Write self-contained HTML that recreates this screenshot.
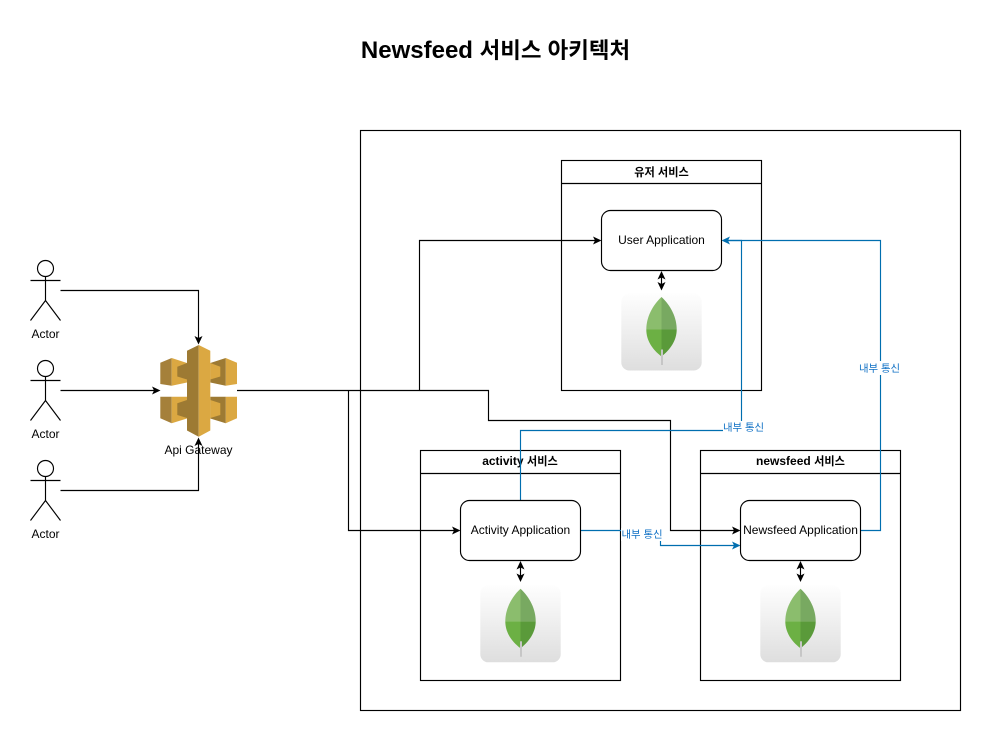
<!DOCTYPE html>
<html><head><meta charset="utf-8">
<style>
html,body{margin:0;padding:0;background:#fff;width:992px;height:741px;overflow:hidden}
svg{display:block}
text{font-family:"Liberation Sans","Noto Sans CJK KR",sans-serif;font-size:12px;fill:#000;text-anchor:middle}
.b{font-weight:bold}
.k{font-size:11.2px}
.bl{fill:#0d6fc4;font-size:10.4px}
.l{fill:none;stroke:#000;stroke-width:1.15}
.u{fill:none;stroke:#006eaf;stroke-width:1.15}
.box{fill:none;stroke:#000;stroke-width:1.15}
</style></head><body>
<svg width="992" height="741" viewBox="0 0 992 741" xmlns="http://www.w3.org/2000/svg">
<defs>
<linearGradient id="g" x1="0" y1="0" x2="0" y2="1"><stop offset="0" stop-color="#fefefe"/><stop offset="0.35" stop-color="#f3f3f3"/><stop offset="1" stop-color="#dedede"/></linearGradient>
<g id="mongo">
<rect x="0" y="0" width="80.4" height="77" rx="8" fill="url(#g)"/>
<path d="M40.2 3.5C31 12 25 24 25 36H40.2Z" fill="#8bbd6d"/>
<path d="M40.2 3.5C49.5 12 55.4 24 55.4 36H40.2Z" fill="#78a961"/>
<path d="M25 36C25 47 31 56 40.2 63V36Z" fill="#6cb044"/>
<path d="M55.4 36C55.4 47 49 56 40.2 63V36Z" fill="#5a9a3a"/>
<path d="M40.7 56V71.5" stroke="#c6c6c6" stroke-width="2" fill="none"/>
</g>
<g id="actor" fill="none" stroke="#000" stroke-width="1.15">
<circle cx="45.5" cy="268.5" r="8"/>
<path d="M45.5 276.5V300.5M30.5 280.5H60.5M30.5 320.5L45.5 300.5L60.5 320.5"/>
</g>
</defs>

<text x="495.5" y="58" class="b" style="font-size:24px">Newsfeed <tspan style="font-size:22.4px">서비스 아키텍처</tspan></text>

<rect x="360.5" y="130.5" width="600" height="580" class="box"/>

<rect x="561.5" y="160.5" width="200" height="230" class="box"/>
<path d="M561.5 183.5H761.5" class="l"/>
<text x="661.5" y="176" class="b k">유저 서비스</text>

<rect x="420.5" y="450.5" width="200" height="230" class="box"/>
<path d="M420.5 473.5H620.5" class="l"/>
<text x="520" y="465" class="b">activity <tspan class="k">서비스</tspan></text>

<rect x="700.5" y="450.5" width="200" height="230" class="box"/>
<path d="M700.5 473.5H900.5" class="l"/>
<text x="800.5" y="465" class="b">newsfeed <tspan class="k">서비스</tspan></text>

<use href="#mongo" x="621.3" y="293.5"/>
<use href="#mongo" x="480.3" y="585.3"/>
<use href="#mongo" x="760.3" y="585.3"/>

<!-- black connectors -->
<path class="l" d="M60.5 290.5H198.5V338"/>
<path class="l" d="M60.5 390.5H154"/>
<path class="l" d="M237 390.5H488.5V420.5H670.5V530.5H734"/>
<path class="l" d="M419.5 390.5V240.5H595"/>
<path class="l" d="M348.5 390.5V530.5H454"/>
<path class="l" d="M661.5 276V285M520.5 566V576M800.5 566V576"/>

<!-- blue connectors -->
<path class="u" d="M520.5 500.5V430.5H741.5V240.5H728"/>
<path class="u" d="M580.5 530.5H660.5V545.5H734"/>
<path class="u" d="M860.5 530.5H880.5V240.5H728"/>

<!-- arrowheads black -->
<g fill="#000">
<path d="M198.5 344.5l-4-8.5 4 2 4-2z"/>
<path d="M160.5 390.5l-8.5-4 2 4-2 4z"/>
<path d="M601.5 240.5l-8.5-4 2 4-2 4z"/>
<path d="M460.5 530.5l-8.5-4 2 4-2 4z"/>
<path d="M740.5 530.5l-8.5-4 2 4-2 4z"/>
<path d="M661.5 271l-4 8.5 4-2 4 2z"/>
<path d="M661.5 290.5l-4-8.5 4 2 4-2z"/>
<path d="M520.5 561l-4 8.5 4-2 4 2z"/>
<path d="M520.5 582l-4-8.5 4 2 4-2z"/>
<path d="M800.5 561l-4 8.5 4-2 4 2z"/>
<path d="M800.5 582l-4-8.5 4 2 4-2z"/>
</g>
<!-- arrowheads blue -->
<g fill="#006eaf">
<path d="M721.5 240.5l8.5-4-2 4 2 4z"/>
<path d="M740.5 545.5l-8.5-4 2 4-2 4z"/>
</g>

<!-- app boxes -->
<rect x="601.5" y="210.5" width="120" height="60" rx="9" fill="#fff" stroke="#000" stroke-width="1.15"/>
<text x="661.5" y="244">User Application</text>
<rect x="460.5" y="500.5" width="120" height="60" rx="9" fill="#fff" stroke="#000" stroke-width="1.15"/>
<text x="520.5" y="534">Activity Application</text>
<rect x="740.5" y="500.5" width="120" height="60" rx="9" fill="#fff" stroke="#000" stroke-width="1.15"/>
<text x="800.5" y="534">Newsfeed Application</text>

<!-- blue labels -->
<rect x="723" y="421" width="41" height="13" fill="#fff"/>
<text x="743.5" y="431" class="bl">내부 통신</text>
<rect x="621" y="528" width="42" height="13" fill="#fff"/>
<text x="642" y="538" class="bl">내부 통신</text>
<rect x="859" y="361" width="42" height="14" fill="#fff"/>
<text x="879.5" y="372" class="bl">내부 통신</text>

<!-- actors -->
<use href="#actor"/>
<use href="#actor" y="100"/>
<use href="#actor" y="200"/>
<text x="45.5" y="338">Actor</text>
<text x="45.5" y="438">Actor</text>
<text x="45.5" y="538">Actor</text>

<!-- API gateway -->
<g>
<path d="M160.3 362.7L171.7 358V385.7L160.3 384Z" fill="#a5803a"/>
<path d="M171.7 358L187 363V382.5L171.7 385.7Z" fill="#dba842"/>
<path d="M177.3 366.7L187 363V379.5L177.3 376.5Z" fill="#9d7a33"/>
<path d="M237 362.7L225.7 358V385.7L237 384Z" fill="#dba842"/>
<path d="M225.7 358L210.3 363V382.5L225.7 385.7Z" fill="#9d7a33"/>
<path d="M220.3 366.7L210.3 363V379.5L220.3 376.5Z" fill="#dba842"/>
<path d="M160.3 396.7H171.7V423.3L160.3 418.3Z" fill="#a5803a"/>
<path d="M171.7 396.7H187V418.5L171.7 423.3Z" fill="#dba842"/>
<path d="M177.3 403.3L187 400V418L177.3 415Z" fill="#9d7a33"/>
<path d="M237 396.7H225.7V423.3L237 418.3Z" fill="#dba842"/>
<path d="M225.7 396.7H210.3V418.5L225.7 423.3Z" fill="#9d7a33"/>
<path d="M220.3 403.3L210.3 400V418L220.3 415Z" fill="#dba842"/>
<path d="M198.7 345L187 350.7V430.5L198.7 436.7Z" fill="#9d7a33"/>
<path d="M198.7 345L210.3 350.7V430.5L198.7 436.7Z" fill="#dba842"/>
</g>
<text x="198.5" y="454">Api Gateway</text>
<path class="l" d="M60.5 490.5H198.5V444"/>
<path d="M198.5 437.5l-4 8.5 4-2 4 2z" fill="#000"/>
</svg>
</body></html>
